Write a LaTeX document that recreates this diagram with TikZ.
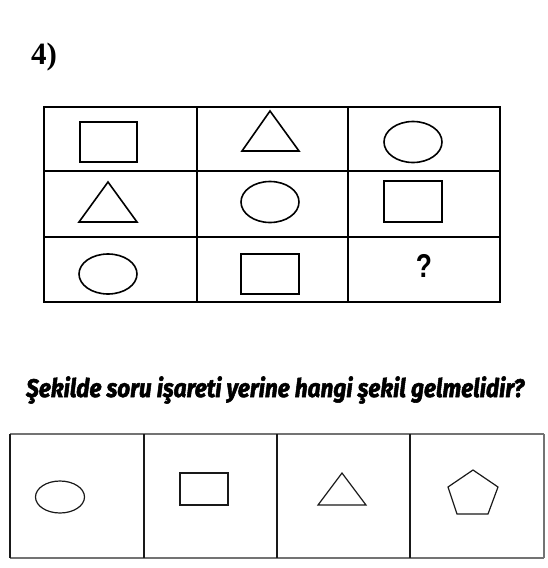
\documentclass[tikz,border=0pt]{standalone}
\usepackage{fontspec}
\usepackage{graphicx}
\setmainfont{Liberation Serif}
\newfontfamily\titlefont{Fira Sans}[BoldItalicFeatures={FakeBold=2.2}]
\newfontfamily\qfont{Liberation Sans}
\begin{document}
\begin{tikzpicture}[x=1pt,y=-1pt,
  gridline/.style={line width=1.4pt,black},
  shapeline/.style={line width=1.6pt,black,line join=miter},
  optline/.style={line width=1.2pt,black!90},
  optframe/.style={line width=1.2pt,black!55}]
\useasboundingbox (0,0) rectangle (547,568);
% number
\node[anchor=base west,inner sep=0pt,font=\fontsize{31}{36}\selectfont\bfseries] (num) at (31,64) {4)};
% grid
\draw[gridline] (44,107) rectangle (500,302);
\foreach \xx in {197,348} \draw[gridline] (\xx,107) -- (\xx,302);
\foreach \yy in {171,237} \draw[gridline] (44,\yy) -- (500,\yy);
% row 1
\draw[shapeline] (80,122) rectangle (137,162);
\draw[shapeline] (270,111) -- (299,151) -- (242,151) -- cycle;
\draw[shapeline] (413,142) ellipse [x radius=29, y radius=20.5];
% row 2
\draw[shapeline] (108,182) -- (137,222) -- (79,222) -- cycle;
\draw[shapeline] (270,202) ellipse [x radius=29, y radius=20.5];
\draw[shapeline] (384,181) rectangle (442,222);
% row 3
\draw[shapeline] (108,274) ellipse [x radius=29, y radius=20];
\draw[shapeline] (241,254) rectangle (299,294);
\node[inner sep=0pt,font=\qfont\bfseries\fontsize{33}{40}\selectfont,xscale=0.8] (q) at (424,266) {?};
% question
\node[anchor=base west,inner sep=0pt] (title) at (26,397)
  {\resizebox{498pt}{\height}{\titlefont\bfseries\itshape\fontsize{25.5}{28}\selectfont Şekilde soru işareti yerine hangi şekil gelmelidir?}};
% options frame
\draw[optframe] (10,434) -- (544,434);
\draw[optframe] (10,558) -- (544,558);
\draw[optframe] (544,434) -- (544,558);
\draw[optline] (10,434) -- (10,558);
\foreach \xx in {144,277,410} \draw[optline] (\xx,434) -- (\xx,558);
% options
\draw[optline] (60,497) ellipse [x radius=24.5, y radius=16];
\draw[optline] (180,473) rectangle (228,505);
\draw[optline] (342,473) -- (366,505) -- (318,505) -- cycle;
\draw[optline] (473,470) -- (498,487) -- (488,514) -- (457,514) -- (448,487) -- cycle;
\end{tikzpicture}
\end{document}
